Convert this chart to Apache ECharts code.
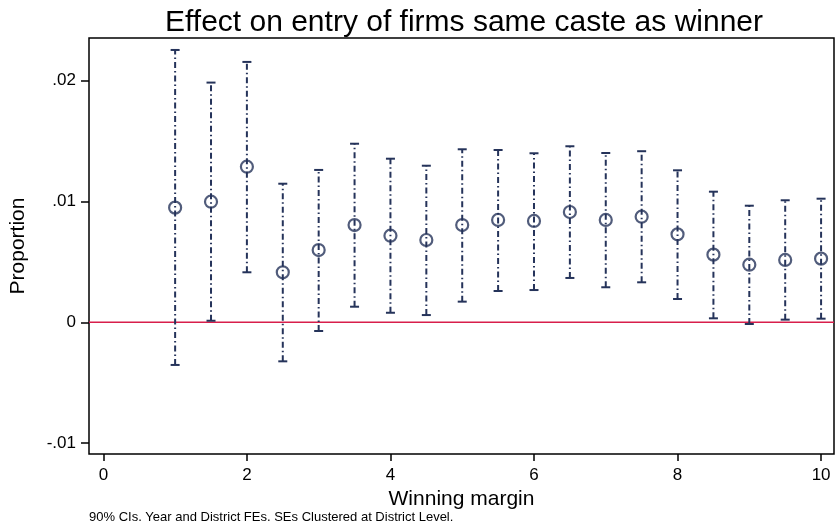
<!DOCTYPE html>
<html>
<head>
<meta charset="utf-8">
<script src="https://cdn.jsdelivr.net/npm/echarts@6/dist/echarts.min.js"></script>
<style>
html,body{margin:0;padding:0;background:#fff;}
#c{width:835px;height:525px;}
</style>
</head>
<body>
<div id="c"></div>
<script>
const margins = [1, 1.5, 2, 2.5, 3, 3.5, 4, 4.5, 5, 5.5, 6, 6.5, 7, 7.5, 8, 8.5, 9, 9.5, 10];
const estimates = [0.00949, 0.00998, 0.01288, 0.00414, 0.00598, 0.00805, 0.00717, 0.00681, 0.00805, 0.00847, 0.00839, 0.00913, 0.00847, 0.00874, 0.00728, 0.00560, 0.00477, 0.00516, 0.00527];
const upperCI = [0.02254, 0.01984, 0.02155, 0.01147, 0.01261, 0.01478, 0.01354, 0.01296, 0.01432, 0.01426, 0.01399, 0.01457, 0.01401, 0.01416, 0.01258, 0.01081, 0.00965, 0.01010, 0.01023];
const lowerCI = [-0.00353, 0.00013, 0.00414, -0.00323, -0.00072, 0.00129, 0.00079, 0.00060, 0.00171, 0.00259, 0.00267, 0.00367, 0.00290, 0.00331, 0.00193, 0.00033, -0.00014, 0.00022, 0.00030];
const xTicks = [0, 2, 4, 6, 8, 10];
const yTicks = [-0.01, 0, 0.01, 0.02];
const yTickLabels = ['-.01', '0', '.01', '.02'];

const navy = '#25335a';
const font = 'Liberation Sans, Arial, sans-serif';
const chart = echarts.init(document.getElementById('c'), null, {renderer: 'canvas'});

const ciData = margins.map((m, i) => [m, lowerCI[i], upperCI[i]]);
const ptData = margins.map((m, i) => [m, estimates[i]]);

chart.setOption({
  animation: false,
  backgroundColor: '#fff',
  title: {
    text: 'Effect on entry of firms same caste as winner',
    left: 459, top: 3, textAlign: 'center',
    textStyle: {fontFamily: font, fontSize: 30, fontWeight: 'normal', color: '#000'}
  },
  graphic: [{
    type: 'text', left: 89, top: 511,
    style: {text: '90% CIs. Year and District FEs. SEs Clustered at District Level.', font: '13px ' + font, fill: '#000'}
  }],
  grid: {left: 85, right: 1, top: 38, bottom: 71, show: true, borderColor: '#000', borderWidth: 1.5, backgroundColor: '#fff'},
  xAxis: {
    type: 'value', min: -0.2, max: 10.18,
    name: 'Winning margin', nameLocation: 'middle', nameGap: 31,
    nameTextStyle: {fontFamily: font, fontSize: 21, color: '#000'},
    axisLine: {show: false, onZero: false},
    axisTick: {show: true, inside: false, length: 7, customValues: xTicks, lineStyle: {color: '#000', width: 1.5}},
    axisLabel: {customValues: xTicks, margin: 13, fontFamily: font, fontSize: 17, color: '#000'},
    splitLine: {show: false}
  },
  yAxis: {
    type: 'value', min: -0.0109, max: 0.02353,
    name: 'Proportion', nameLocation: 'middle', nameGap: 60, nameRotate: 90,
    nameTextStyle: {fontFamily: font, fontSize: 21, color: '#000'},
    axisLine: {show: false, onZero: false},
    axisTick: {show: true, inside: false, length: 8, customValues: yTicks, lineStyle: {color: '#000', width: 1.5}},
    axisLabel: {
      customValues: yTicks, margin: 13,
      fontFamily: font, fontSize: 17, color: '#000',
      formatter: v => { const i = yTicks.findIndex(t => Math.abs(t - v) < 1e-9); return i >= 0 ? yTickLabels[i] : ''; }
    },
    splitLine: {show: false}
  },
  series: [
    {
      type: 'line', data: [[-0.2, 0], [10.18, 0]], symbol: 'none', silent: true,
      lineStyle: {color: '#d81e4b', width: 1.5}, z: 1
    },
    {
      type: 'custom', data: ciData, z: 2,
      renderItem: function (params, api) {
        const x = api.value(0);
        const lo = api.coord([x, api.value(1)]);
        const hi = api.coord([x, api.value(2)]);
        const hw = 4.5;
        const style = {stroke: navy, lineWidth: 2, lineDash: [6, 3, 1.5, 3]};
        const cap = {stroke: navy, lineWidth: 2};
        return {
          type: 'group', children: [
            {type: 'line', shape: {x1: lo[0], y1: lo[1], x2: hi[0], y2: hi[1]}, style: style},
            {type: 'line', shape: {x1: hi[0] - hw, y1: hi[1], x2: hi[0] + hw, y2: hi[1]}, style: cap},
            {type: 'line', shape: {x1: lo[0] - hw, y1: lo[1], x2: lo[0] + hw, y2: lo[1]}, style: cap}
          ]
        };
      }
    },
    {
      type: 'scatter', data: ptData, z: 3,
      symbol: 'circle', symbolSize: 12,
      itemStyle: {color: 'rgba(0,0,0,0)', borderColor: navy, borderWidth: 2.2}
    }
  ]
});
</script>
</body>
</html>
